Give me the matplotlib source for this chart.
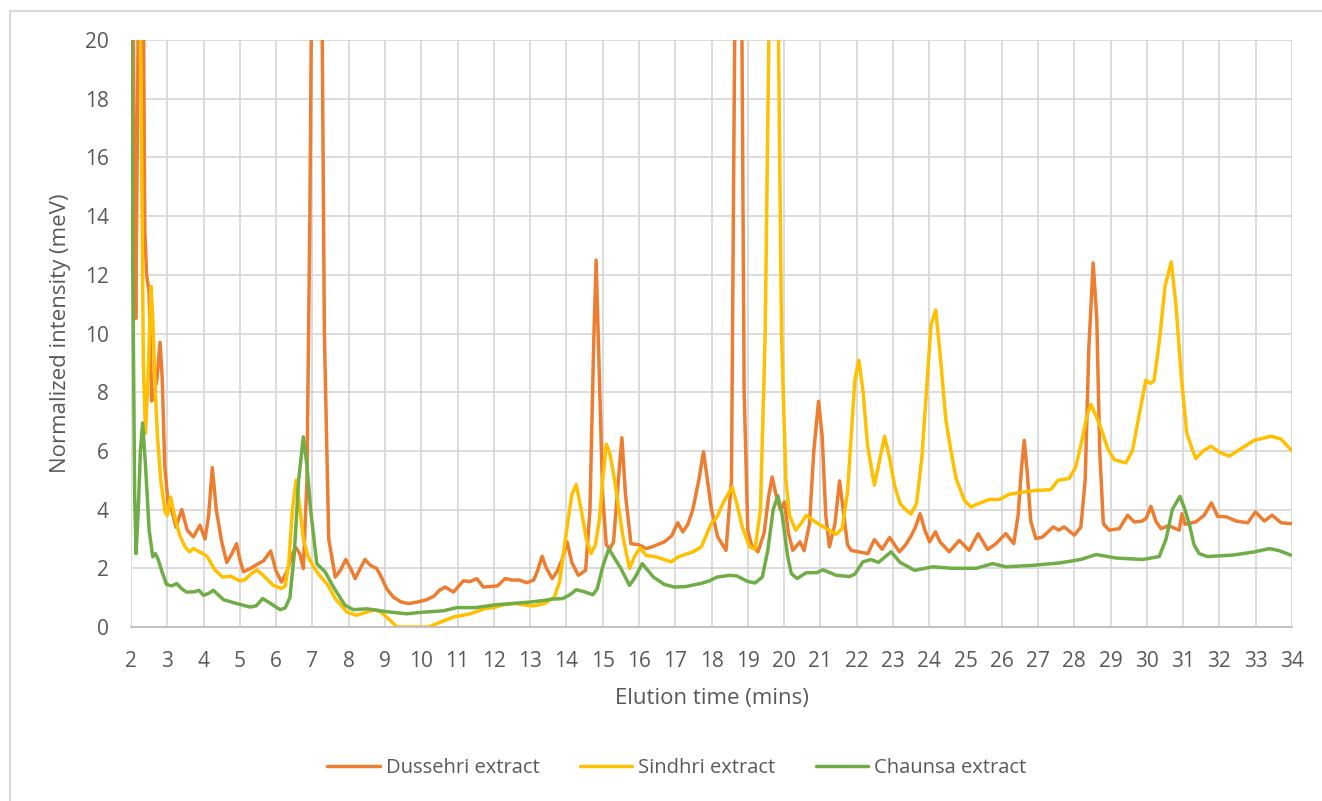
import matplotlib
matplotlib.use('Agg')
import matplotlib.pyplot as plt
from matplotlib.patches import Rectangle

# HPLC traces of the three mango extracts
dussehri = [(2.0, 21), (2.04, 24), (2.09, 16), (2.13, 10.5), (2.17, 16), (2.22, 24), (2.33, 24),
            (2.38, 13.5), (2.43, 12.0), (2.5, 11.4), (2.57, 7.7), (2.63, 7.9), (2.72, 8.5), (2.8, 9.7),
            (2.86, 8.5), (2.93, 5.5), (3.03, 4.1), (3.12, 4.0), (3.24, 3.4), (3.4, 4.0), (3.55, 3.3),
            (3.72, 3.07), (3.9, 3.47), (4.04, 3.0), (4.14, 3.8), (4.24, 5.43), (4.35, 4.0), (4.5, 2.9),
            (4.64, 2.2), (4.78, 2.5), (4.91, 2.84), (5.0, 2.3), (5.1, 1.88), (5.3, 2.0), (5.51, 2.16),
            (5.65, 2.25), (5.85, 2.59), (6.0, 1.9), (6.15, 1.53), (6.3, 1.9), (6.45, 2.5), (6.55, 2.7),
            (6.65, 2.5), (6.75, 1.99), (6.85, 5.0), (6.93, 14), (6.98, 22), (7.12, 26), (7.26, 22),
            (7.33, 10), (7.45, 3.0), (7.63, 1.7), (7.78, 1.95), (7.92, 2.3), (8.05, 2.0), (8.18, 1.65),
            (8.3, 1.95), (8.45, 2.3), (8.6, 2.1), (8.77, 2.0), (8.9, 1.7), (9.05, 1.3), (9.23, 1.02),
            (9.45, 0.85), (9.65, 0.8), (9.9, 0.85), (10.15, 0.93), (10.35, 1.05), (10.5, 1.25),
            (10.66, 1.36), (10.89, 1.19), (11.0, 1.35), (11.16, 1.57), (11.35, 1.55), (11.53, 1.65),
            (11.71, 1.36), (11.9, 1.38), (12.1, 1.4), (12.31, 1.65), (12.5, 1.6), (12.7, 1.6),
            (12.91, 1.51), (13.1, 1.6), (13.2, 1.9), (13.33, 2.41), (13.45, 2.0), (13.61, 1.65),
            (13.75, 1.9), (13.88, 2.3), (14.02, 2.9), (14.15, 2.2), (14.33, 1.76), (14.53, 1.93),
            (14.65, 4.0), (14.75, 9.5), (14.82, 12.5), (14.9, 9.0), (15.0, 4.5), (15.1, 2.8),
            (15.2, 2.67), (15.3, 2.9), (15.42, 4.8), (15.53, 6.45), (15.63, 4.5), (15.78, 2.84),
            (16.0, 2.8), (16.2, 2.67), (16.4, 2.75), (16.7, 2.9), (16.9, 3.1), (17.07, 3.55),
            (17.21, 3.24), (17.35, 3.5), (17.49, 4.03), (17.65, 5.0), (17.78, 5.97), (17.9, 4.9),
            (18.0, 4.0), (18.17, 3.07), (18.4, 2.61), (18.55, 5.0), (18.65, 22), (18.74, 26),
            (18.83, 22), (18.9, 8), (19.0, 3.3), (19.1, 2.8), (19.28, 2.56), (19.45, 3.2), (19.57, 4.4),
            (19.67, 5.11), (19.78, 4.5), (19.9, 4.0), (20.01, 4.26), (20.12, 3.2), (20.24, 2.61),
            (20.44, 2.9), (20.55, 2.6), (20.7, 3.5), (20.82, 6.0), (20.95, 7.69), (21.05, 6.5),
            (21.15, 3.8), (21.25, 2.73), (21.4, 3.5), (21.53, 4.98), (21.65, 3.8), (21.75, 2.8),
            (21.85, 2.61), (22.1, 2.55), (22.31, 2.5), (22.49, 2.98), (22.7, 2.65), (22.91, 3.05),
            (23.18, 2.56), (23.35, 2.8), (23.5, 3.1), (23.62, 3.4), (23.75, 3.86), (23.88, 3.3),
            (24.01, 2.9), (24.17, 3.24), (24.3, 2.9), (24.55, 2.56), (24.83, 2.95), (25.1, 2.61),
            (25.35, 3.18), (25.61, 2.64), (25.84, 2.84), (26.11, 3.18), (26.33, 2.84), (26.45, 3.8),
            (26.55, 5.5), (26.62, 6.36), (26.7, 5.3), (26.8, 3.6), (26.94, 3.01), (27.13, 3.07),
            (27.42, 3.41), (27.57, 3.3), (27.72, 3.41), (28.0, 3.13), (28.18, 3.4), (28.3, 5.0),
            (28.4, 9.5), (28.52, 12.4), (28.62, 10.5), (28.7, 6.0), (28.8, 3.52), (28.96, 3.3),
            (29.24, 3.35), (29.47, 3.81), (29.65, 3.58), (29.85, 3.6), (29.98, 3.7), (30.11, 4.11),
            (30.25, 3.6), (30.39, 3.35), (30.6, 3.45), (30.89, 3.3), (30.97, 3.86), (31.05, 3.5),
            (31.35, 3.58), (31.58, 3.81), (31.78, 4.23), (31.95, 3.77), (32.2, 3.75), (32.46, 3.61),
            (32.78, 3.55), (32.99, 3.92), (33.24, 3.61), (33.45, 3.81), (33.7, 3.55), (34.0, 3.52)]

sindhri = [(2.0, 22), (2.05, 26), (2.2, 26), (2.28, 18), (2.34, 9), (2.4, 6.6), (2.47, 8.5),
           (2.55, 11.6), (2.6, 10.5), (2.67, 8), (2.73, 6.5), (2.82, 5.0), (2.94, 3.92), (3.0, 3.8),
           (3.09, 4.43), (3.24, 3.58), (3.35, 3.1), (3.49, 2.73), (3.61, 2.56), (3.72, 2.67),
           (3.95, 2.52), (4.1, 2.4), (4.32, 1.93), (4.53, 1.7), (4.75, 1.73), (5.0, 1.57), (5.15, 1.62),
           (5.3, 1.8), (5.47, 1.95), (5.65, 1.75), (5.92, 1.42), (6.15, 1.31), (6.25, 1.4), (6.35, 2.2),
           (6.45, 4.0), (6.55, 5.0), (6.63, 4.3), (6.75, 3.0), (6.88, 2.4), (7.03, 2.05), (7.2, 1.75),
           (7.4, 1.48), (7.63, 0.97), (7.95, 0.51), (8.22, 0.4), (8.5, 0.51), (8.73, 0.59), (8.9, 0.5),
           (9.14, 0.23), (9.33, 0.0), (10.2, 0.0), (10.52, 0.16), (10.89, 0.34), (11.35, 0.45),
           (11.76, 0.63), (12.0, 0.66), (12.31, 0.77), (12.6, 0.8), (12.91, 0.74), (13.1, 0.72),
           (13.4, 0.8), (13.67, 1.02), (13.81, 1.53), (13.92, 2.5), (14.04, 3.58), (14.15, 4.5),
           (14.27, 4.86), (14.41, 3.98), (14.55, 3.0), (14.68, 2.5), (14.8, 2.8), (14.91, 3.64),
           (15.0, 5.0), (15.1, 6.23), (15.2, 5.9), (15.33, 5.0), (15.45, 4.0), (15.56, 3.07),
           (15.74, 1.99), (15.88, 2.4), (16.03, 2.7), (16.2, 2.44), (16.5, 2.38), (16.89, 2.22),
           (17.1, 2.4), (17.49, 2.56), (17.72, 2.73), (17.99, 3.52), (18.15, 3.75), (18.35, 4.3),
           (18.57, 4.77), (18.7, 4.2), (18.85, 3.4), (19.05, 2.73), (19.2, 2.65), (19.35, 4.0),
           (19.48, 10), (19.6, 22), (19.72, 27), (19.83, 22), (19.93, 10), (20.05, 5.0), (20.15, 3.8),
           (20.32, 3.3), (20.45, 3.5), (20.61, 3.8), (20.9, 3.55), (21.1, 3.4), (21.44, 3.16),
           (21.6, 3.35), (21.75, 4.6), (21.85, 6.5), (21.95, 8.4), (22.06, 9.09), (22.18, 8.0),
           (22.3, 6.2), (22.49, 4.83), (22.62, 5.6), (22.77, 6.5), (22.9, 5.8), (23.05, 4.8),
           (23.2, 4.2), (23.37, 3.98), (23.5, 3.85), (23.65, 4.2), (23.8, 5.8), (23.95, 8.5),
           (24.05, 10.3), (24.18, 10.8), (24.3, 9.3), (24.46, 7.05), (24.6, 6.0), (24.74, 5.06),
           (24.97, 4.32), (25.15, 4.09), (25.35, 4.2), (25.65, 4.34), (25.95, 4.35), (26.2, 4.52),
           (26.6, 4.6), (26.9, 4.65), (27.35, 4.68), (27.55, 5.0), (27.86, 5.06), (28.04, 5.45),
           (28.2, 6.3), (28.35, 7.2), (28.46, 7.59), (28.7, 6.9), (28.92, 6.08), (29.1, 5.7),
           (29.42, 5.59), (29.6, 6.0), (29.8, 7.3), (29.97, 8.41), (30.1, 8.3), (30.2, 8.4),
           (30.35, 9.8), (30.5, 11.6), (30.67, 12.44), (30.8, 11.0), (30.95, 8.5), (31.1, 6.6),
           (31.26, 6.02), (31.35, 5.74), (31.55, 6.0), (31.77, 6.16), (32.0, 5.95), (32.27, 5.82),
           (32.5, 6.0), (32.96, 6.36), (33.42, 6.5), (33.7, 6.4), (34.0, 6.0)]

chaunsa = [(2.0, 22), (2.05, 12), (2.1, 4.5), (2.14, 2.5), (2.2, 4.0), (2.26, 6.0), (2.32, 6.95),
           (2.4, 5.5), (2.5, 3.3), (2.6, 2.39), (2.67, 2.5), (2.75, 2.3), (2.85, 1.9), (2.98, 1.45),
           (3.12, 1.4), (3.26, 1.48), (3.4, 1.3), (3.53, 1.19), (3.75, 1.2), (3.87, 1.25), (4.0, 1.08),
           (4.15, 1.15), (4.27, 1.25), (4.4, 1.1), (4.55, 0.93), (4.91, 0.8), (5.28, 0.68),
           (5.45, 0.72), (5.63, 0.97), (5.85, 0.8), (6.11, 0.59), (6.25, 0.65), (6.38, 1.0),
           (6.5, 2.5), (6.62, 5.0), (6.75, 6.48), (6.85, 5.5), (6.95, 4.0), (7.12, 2.16), (7.35, 1.88),
           (7.58, 1.36), (7.9, 0.74), (8.13, 0.59), (8.5, 0.62), (8.9, 0.55), (9.2, 0.5), (9.6, 0.45),
           (10.0, 0.5), (10.6, 0.55), (10.98, 0.66), (11.5, 0.66), (12.0, 0.75), (12.5, 0.8),
           (13.0, 0.85), (13.35, 0.9), (13.6, 0.95), (13.9, 0.97), (14.1, 1.1), (14.27, 1.27),
           (14.5, 1.2), (14.73, 1.1), (14.85, 1.3), (15.0, 2.05), (15.17, 2.67), (15.3, 2.4),
           (15.5, 2.0), (15.74, 1.42), (15.9, 1.7), (16.09, 2.16), (16.4, 1.7), (16.7, 1.45),
           (16.98, 1.36), (17.3, 1.38), (17.7, 1.48), (17.94, 1.57), (18.15, 1.7), (18.5, 1.76),
           (18.7, 1.74), (19.0, 1.55), (19.2, 1.5), (19.4, 1.7), (19.55, 2.6), (19.7, 4.0),
           (19.83, 4.47), (19.95, 3.8), (20.1, 2.4), (20.2, 1.82), (20.36, 1.65), (20.61, 1.85),
           (20.9, 1.85), (21.07, 1.95), (21.44, 1.76), (21.8, 1.72), (21.95, 1.8), (22.17, 2.22),
           (22.4, 2.3), (22.6, 2.2), (22.95, 2.56), (23.2, 2.2), (23.6, 1.93), (24.09, 2.05),
           (24.64, 2.0), (25.29, 2.0), (25.75, 2.16), (26.11, 2.05), (26.85, 2.1), (27.58, 2.18),
           (28.18, 2.3), (28.6, 2.47), (29.15, 2.35), (29.88, 2.3), (30.34, 2.4), (30.53, 3.0),
           (30.7, 4.0), (30.91, 4.45), (31.05, 4.0), (31.17, 3.5), (31.3, 2.8), (31.44, 2.5),
           (31.67, 2.4), (32.36, 2.45), (32.92, 2.55), (33.38, 2.67), (33.65, 2.6), (33.97, 2.45)]

series_names = ['Dussehri extract', 'Sindhri extract', 'Chaunsa extract']
series_colors = ['#ED7D31', '#FFC000', '#70AD47']
x_ticks = list(range(2, 35))
y_ticks = list(range(0, 21, 2))

plt.rcParams['font.family'] = ['Open Sans', 'DejaVu Sans']
txt = '#595959'

fig = plt.figure(figsize=(13.22, 8.01), dpi=100)
ax = fig.add_axes([131 / 1322, 1 - 627 / 801, (1292 - 131) / 1322, (627 - 40) / 801])

for data, name, col in zip([dussehri, sindhri, chaunsa], series_names, series_colors):
    xs, ys = zip(*data)
    ax.plot(xs, ys, color=col, lw=2.5, label=name, solid_joinstyle='round', solid_capstyle='round')

ax.set_xlim(2, 34)
ax.set_ylim(0, 20)
ax.set_xticks(x_ticks)
ax.set_yticks(y_ticks)
ax.grid(True, color='#D9D9D9', lw=1.3)
ax.set_axisbelow(True)
for s in ['top', 'right', 'left']:
    ax.spines[s].set_visible(False)
ax.spines['bottom'].set_color('#BFBFBF')
ax.spines['bottom'].set_linewidth(1.3)
ax.tick_params(length=0, labelsize=15, labelcolor=txt)
ax.tick_params(axis='x', pad=17)
ax.tick_params(axis='y', pad=16)

ax.set_xlabel('Elution time (mins)', fontsize=16, color=txt, labelpad=12)
ax.set_ylabel('Normalized intensity (meV)', fontsize=16, color=txt, labelpad=10)

fig.legend(loc='center', bbox_to_anchor=(0.512, 0.041), ncol=3, frameon=False,
           fontsize=14.5, labelcolor=txt, handlelength=2.6, handletextpad=0.3, columnspacing=2.0)

# light frame around the chart area
fig.add_artist(Rectangle((10 / 1322, -0.05), 1.5, (801 - 11) / 801 + 0.05,
                         transform=fig.transFigure, fill=False, edgecolor='#D9D9D9', lw=1.5))

fig.savefig('out.png', dpi=100)
